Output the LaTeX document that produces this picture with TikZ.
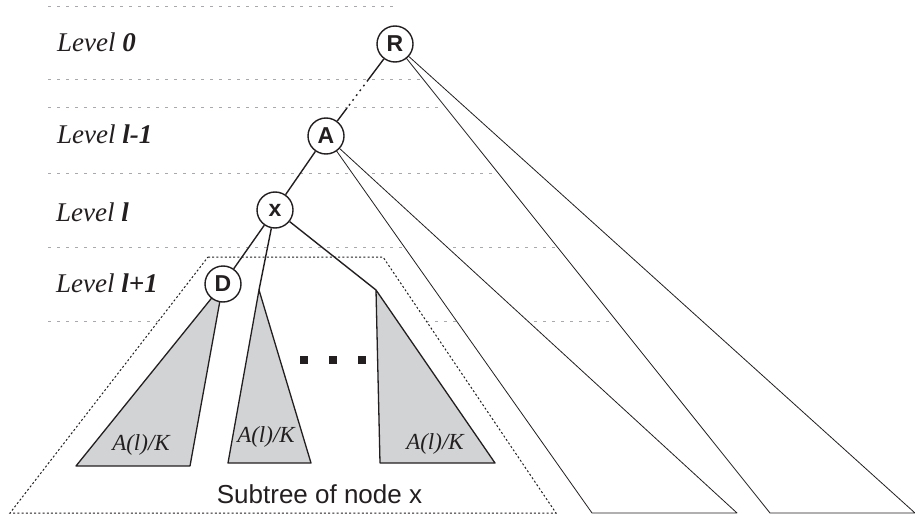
\documentclass[tikz,border=0pt]{standalone}
\usepackage{fontspec}
\setmainfont{Liberation Serif}
\setsansfont{Liberation Sans}
\usetikzlibrary{calc}
\definecolor{ink}{HTML}{231F20}
\definecolor{guide}{HTML}{A7A9AC}
\definecolor{shade}{HTML}{D1D3D4}
\begin{document}
\begin{tikzpicture}[x=1pt,y=-1pt,
  guideline/.style={draw=guide, line width=1pt, dash pattern=on 3.3pt off 5.7pt},
  treenode/.style={circle, draw=ink, fill=white, line width=1.4pt, minimum size=36pt, inner sep=0pt,
    font=\sffamily\bfseries\fontsize{23}{23}\selectfont, text=ink},
  edge/.style={draw=ink, line width=1.4pt},
  fan/.style={draw=ink, fill=white, line width=0.8pt, line join=round},
  leaf/.style={draw=ink, fill=shade, line width=1.3pt, line join=round},
  hull/.style={draw=ink, fill=white, line width=1pt, dash pattern=on 2pt off 2.2pt},
  lvl/.style={anchor=base west, inner sep=0pt, text=ink, font=\itshape\fontsize{27}{27}\selectfont},
  share/.style={anchor=base, inner sep=0pt, text=ink, font=\itshape\fontsize{23}{23}\selectfont},
  dotsq/.style={fill=ink, minimum size=8pt, inner sep=0pt}
]
\useasboundingbox (0,0) rectangle (915,516);

% node centres
\coordinate (cR) at (395,44);
\coordinate (cA) at (326,136);
\coordinate (cX) at (275,210);
\coordinate (cD) at (223,284);
\coordinate (m2top) at (259,290);
\coordinate (m3top) at (376,290);

% level separators
\draw[guideline] (48,7) -- (397,7);
\draw[guideline] (48,80) -- (424,80);
\draw[guideline] (48,108) -- (443,108);
\draw[guideline] (48,173) -- (498,173);
\draw[guideline] (48,247) -- (557,247);
\draw[guideline] (48,321) -- (615,321);

% subtrees of R and A
\draw[fan] (cR) -- (770,513) -- (915,513) -- cycle;
\draw[fan] (cA) -- (592,513) -- (737,513) -- cycle;

% subtree of x
\draw[hull] (208,257) -- (383,257) -- (556,513) -- (10,513) -- cycle;

% children's subtrees
\draw[leaf] (cD) -- (76,466) -- (190,466) -- cycle;
\draw[leaf] (m2top) -- (228,463) -- (311,463) -- cycle;
\draw[leaf] (m3top) -- (380,463) -- (495,463) -- cycle;

\node[share] (s1) at (141,450) {A(l)/K};
\node[share] (s2) at (266,442) {A(l)/K};
\node[share] (s3) at (435,449) {A(l)/K};

% ellipsis
\node[dotsq] (d1) at (304,360) {};
\node[dotsq] (d2) at (333,360) {};
\node[dotsq] (d3) at (362,360) {};

% tree nodes
\node[treenode] (R) at (cR) {R};
\node[treenode] (A) at (cA) {A};
\node[treenode] (X) at (cX) {x};
\node[treenode] (D) at (cD) {D};

% edges
\coordinate (ra1) at ($(cR)!0.391!(cA)$);
\coordinate (ra2) at ($(cR)!0.696!(cA)$);
\draw[edge] (R) -- (ra1);
\draw[edge, dash pattern=on 1.8pt off 4.2pt] (ra1) -- (ra2);
\draw[edge] (ra2) -- (A);
\draw[edge] (A) -- (X);
\draw[edge] (X) -- (D);
\draw[edge] (X) -- (m2top);
\draw[edge] (X) -- (m3top);

% level labels
\node[lvl] (l0) at (57,52) {Level \textbf{0}};
\node[lvl] (l1) at (57,143) {Level \textbf{l-1}};
\node[lvl] (l2) at (56,221) {Level \textbf{l}};
\node[lvl] (l3) at (56,292) {Level \textbf{l+1}};

\node[anchor=base, inner sep=0pt, text=ink, font=\sffamily\fontsize{26}{26}\selectfont] (cap) at (319.5,503) {Subtree of node x};
\end{tikzpicture}
\end{document}
